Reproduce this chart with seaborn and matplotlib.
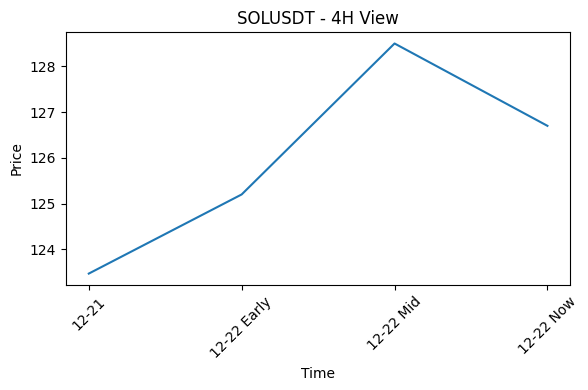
import matplotlib
matplotlib.use("Agg")
import matplotlib.pyplot as plt
import seaborn as sns
import pandas as pd

times = ["12-21", "12-22 Early", "12-22 Mid", "12-22 Now"]
prices = [123.47, 125.2, 128.5, 126.7]

df = pd.DataFrame({"Time": times, "Price": prices})

fig, ax = plt.subplots(figsize=(5.88, 3.9), dpi=100)
sns.lineplot(data=df, x="Time", y="Price", ax=ax, color="#1f77b4")
ax.set_title("SOLUSDT - 4H View")
ax.set_xlabel("Time")
ax.set_ylabel("Price")
plt.setp(ax.get_xticklabels(), rotation=45)
fig.subplots_adjust(left=0.112, right=0.970, top=0.918, bottom=0.269)
fig.savefig("out.png", dpi=100)
